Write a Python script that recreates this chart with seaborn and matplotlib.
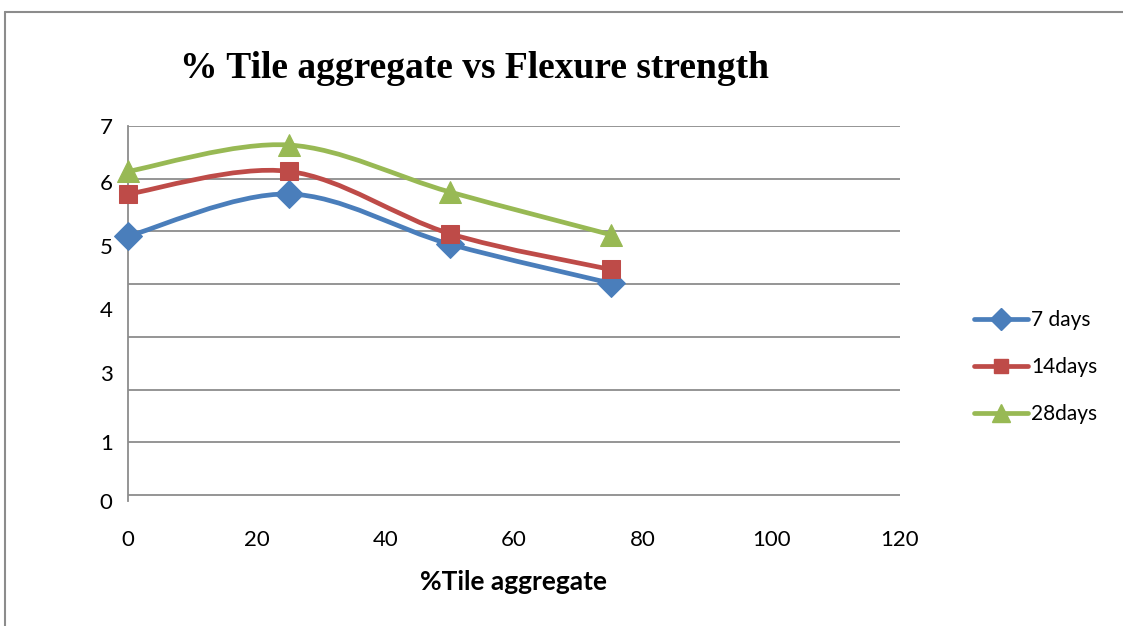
import numpy as np
import seaborn as sns
import matplotlib.pyplot as plt
from matplotlib.path import Path
from matplotlib.patches import PathPatch
from matplotlib.lines import Line2D

# data
tile_pct = [0, 25, 50, 75]
days_7 = [4.91, 5.71, 4.76, 4.02]
days_14 = [5.71, 6.14, 4.96, 4.28]
days_28 = [6.14, 6.64, 5.75, 4.94]
series_names = ['7 days', '14days', '28days']

# y labels as printed in the picture (they sit a little off the gridlines)
ytick_text = ['7', '6', '5', '4', '3', '1', '0']
ytick_pos = [7.0, 5.94, 4.72, 3.53, 2.32, 1.0, -0.11]
grid_levels = [0, 1, 2, 3, 4, 5, 6, 7]

colors = ['#4a7ebb', '#be4b48', '#98b954']
markers = ['D', 's', '^']
msizes = [14, 13, 16]


def smooth_path(xs, ys):
    # Excel style smoothed line: catmull-rom through the points as bezier
    pts = np.column_stack([xs, ys]).astype(float)
    verts = [pts[0]]
    codes = [Path.MOVETO]
    n = len(pts)
    for i in range(n - 1):
        p0 = pts[i - 1] if i > 0 else pts[i]
        p1 = pts[i]
        p2 = pts[i + 1]
        p3 = pts[i + 2] if i + 2 < n else pts[i + 1]
        c1 = p1 + (p2 - p0) / 6
        c2 = p2 - (p3 - p1) / 6
        verts += [c1, c2, p2]
        codes += [Path.CURVE4] * 3
    return Path(verts, codes)


sns.set_theme(style='white')
plt.rcParams['font.family'] = ['Lato', 'DejaVu Sans']
plt.rcParams['text.color'] = 'black'

fig = plt.figure(figsize=(11.23, 6.26), dpi=100)
ax = fig.add_axes([128 / 1123, 1 - 501 / 626, 772 / 1123, 375 / 626])

for lvl in grid_levels:
    ax.axhline(lvl, color='#8c8c8c', lw=1.3, zorder=0.5)

for vals, name, c, m, ms in zip([days_7, days_14, days_28], series_names, colors, markers, msizes):
    ax.add_patch(PathPatch(smooth_path(tile_pct, vals), fill=False, edgecolor=c, lw=3.4,
                           capstyle='round', joinstyle='round', zorder=2))
    sns.lineplot(x=tile_pct, y=vals, ax=ax, color=c, marker=m, markersize=ms,
                 markeredgecolor=c, linestyle='none', label=name, legend=False,
                 clip_on=False, zorder=3)

ax.set_xlim(0, 120)
ax.set_ylim(0, 7)
ax.set_xticks(range(0, 121, 20))
ax.set_yticks(ytick_pos)
ax.set_yticklabels(ytick_text)
ax.grid(False)
ax.tick_params(axis='both', which='both', length=0, labelsize=16, colors='black')
ax.tick_params(axis='x', pad=21)
ax.tick_params(axis='y', pad=11)
for s in ['top', 'right', 'bottom']:
    ax.spines[s].set_visible(False)
ax.spines['left'].set_color('#8c8c8c')
ax.spines['left'].set_linewidth(1.3)

ax.set_xlabel('%Tile aggregate', fontsize=19, fontweight='bold', labelpad=14, color='black')
ax.set_ylabel('')

fig.text(475 / 1123, 1 - 68 / 626, '% Tile aggregate vs Flexure strength',
         ha='center', va='center', fontsize=27, fontweight='bold',
         family='Liberation Serif', color='black')

handles = [Line2D([], [], color=c, lw=3.4, marker=m, markersize=ms - 3, markeredgecolor=c)
           for c, m, ms in zip(colors, markers, msizes)]
fig.legend(handles, series_names, loc='center left', bbox_to_anchor=(955 / 1123, 1 - 367 / 626),
           frameon=False, fontsize=15, handlelength=2.6, handletextpad=0.15, labelspacing=1.3)

# gray frame round the chart area
fig.add_artist(Line2D([5 / 1123, 5 / 1123], [0, 1 - 12 / 626], color='#8c8c8c', lw=1.5,
                      transform=fig.transFigure))
fig.add_artist(Line2D([5 / 1123, 1], [1 - 12 / 626, 1 - 12 / 626], color='#8c8c8c', lw=1.5,
                      transform=fig.transFigure))

fig.savefig('out.png', dpi=100)
